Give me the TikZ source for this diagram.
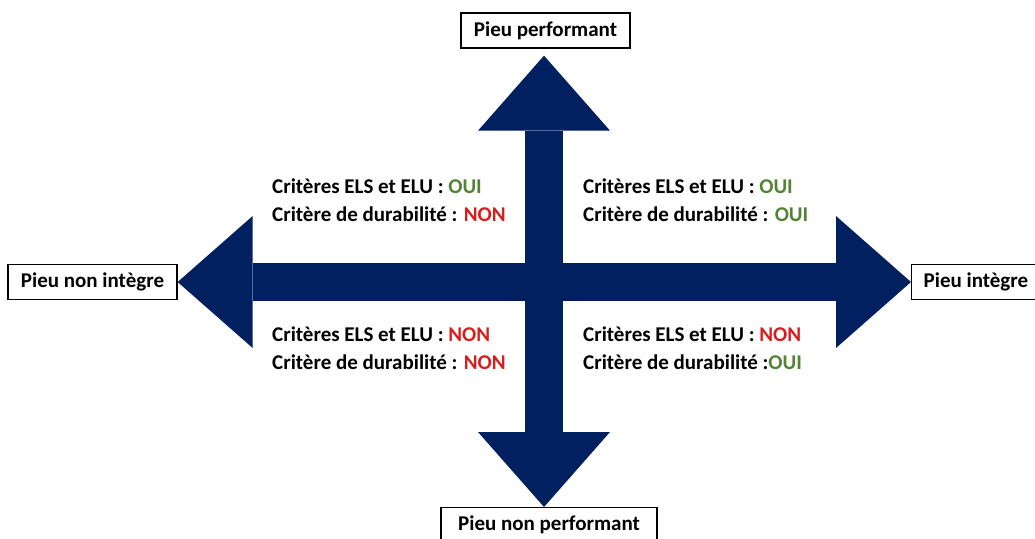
\documentclass[tikz,border=0pt]{standalone}
\usepackage{fontspec}
\setmainfont{Carlito}
\usetikzlibrary{arrows.meta}
\definecolor{navy}{RGB}{0,32,96}
\definecolor{oui}{RGB}{84,130,53}
\definecolor{non}{RGB}{214,30,30}
\begin{document}
\begin{tikzpicture}[x=1pt,y=-1pt,
  font=\fontsize{21}{28}\selectfont\bfseries,
  labelbox/.style={draw=black, line width=1.3pt, fill=white, inner xsep=12pt, inner ysep=0pt, minimum height=35pt},
  axisarrow/.style={draw=navy, line width=38pt, -{Triangle[width=132pt,length=75pt,line width=0pt]}},
  quad/.style={anchor=west, align=left, inner sep=0pt}]
\useasboundingbox (0,0) rectangle (1035,538);
\coordinate (c) at (544,282);
\node[labelbox, minimum width=169pt] (top) at (545.5,30.5) {Pieu performant};
\node[labelbox, minimum width=169pt] (left) at (92.5,282) {Pieu non intègre};
\node[labelbox, anchor=west] (right) at (911,282) {Pieu intègre};
\node[labelbox, anchor=north, minimum width=216pt] (bottom) at (549,507) {Pieu non performant};
\draw[axisarrow, shorten >=7pt] (c) -- (c |- top.south);
\draw[axisarrow] (c) -- (c -| left.east);
\draw[axisarrow] (c) -- (c -| right.west);
\draw[axisarrow] (c) -- (c |- bottom.north);
\node[quad] (q1) at (272,200) {Critères ELS et ELU : \textcolor{oui}{OUI}\\Critère de durabilité : \textcolor{non}{NON}};
\node[quad] (q2) at (583,200) {Critères ELS et ELU : \textcolor{oui}{OUI}\\Critère de durabilité : \textcolor{oui}{OUI}};
\node[quad] (q3) at (272,348.5) {Critères ELS et ELU : \textcolor{non}{NON}\\Critère de durabilité : \textcolor{non}{NON}};
\node[quad] (q4) at (583,348.5) {Critères ELS et ELU : \textcolor{non}{NON}\\Critère de durabilité :\textcolor{oui}{OUI}};
\end{tikzpicture}
\end{document}
